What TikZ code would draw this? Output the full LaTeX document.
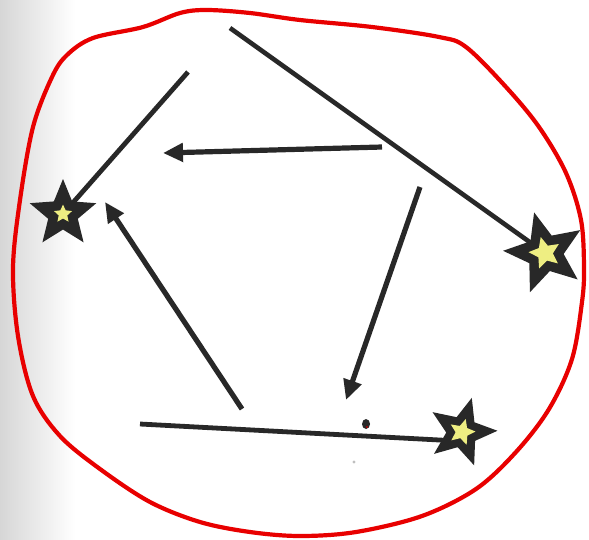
\documentclass[tikz,border=0pt]{standalone}
\usetikzlibrary{arrows.meta,shapes.geometric}
\definecolor{ink}{RGB}{40,40,40}
\definecolor{loopred}{RGB}{232,0,0}
\definecolor{glow}{RGB}{238,238,130}
\tikzset{
  stroke/.style={draw=ink,line width=5.2pt},
  arrowline/.style={stroke,-{Triangle[length=20pt,width=18pt]}},
  blackstar/.style={star,star points=5,star point ratio=2.25,fill=ink,draw=none,inner sep=0pt},
  yellowstar/.style={star,star points=5,star point ratio=2.1,fill=glow,draw=none,inner sep=0pt},
}
\begin{document}
\begin{tikzpicture}[x=1pt,y=-1pt]
\useasboundingbox (0,0) rectangle (589,539);
\fill[white] (0,0) rectangle (589,539);
\shade[left color=black!16,right color=white] (0,0) rectangle (75,539);

% red closed loop
\draw[draw=loopred,line width=4.2pt] plot[smooth cycle,tension=0.55] coordinates {
 (52,77) (67,55) (93,38) (143,27) (180,13) (207,10) (250,13) (300,20)
 (372,27) (439,37) (466,47) (506,87) (539,127) (566,173) (581,220) (584,268)
 (582,302) (572,359) (549,409) (516,452) (476,489) (422,516) (356,532) (300,536)
 (250,532) (200,522) (150,502) (100,469) (60,436) (33,396) (18,336) (13,268)
 (20,200) (33,127)};

% star positions
\coordinate (sl) at (63,214);
\coordinate (sr) at (545,253);
\coordinate (sb) at (462,432);
\coordinate (sbin) at (458,441);

% connector start / end points
\coordinate (a1) at (230,28);
\coordinate (a2) at (188,72);
\coordinate (a3s) at (382,147);
\coordinate (a3e) at (163,153);
\coordinate (a4s) at (420,187);
\coordinate (a4e) at (346,400);
\coordinate (a5s) at (242,409);
\coordinate (a5e) at (105,202);
\coordinate (a6) at (140,424);

\draw[stroke,line width=4.6pt] (a1) -- (sr);
\draw[stroke,line width=4.8pt] (a2) -- (sl);
\draw[arrowline] (a3s) -- (a3e);
\draw[arrowline] (a4s) -- (a4e);
\draw[arrowline] (a5s) -- (a5e);
\draw[stroke,line width=4.8pt] (a6) -- (sbin);

% stars
\node[blackstar,minimum size=70pt] (starl) at (sl) {};
\node[yellowstar,minimum size=19pt] (starlin) at (sl) {};
\node[blackstar,minimum size=84pt,rotate=15] (starr) at (sr) {};
\node[yellowstar,minimum size=33pt,rotate=15] (starrin) at (sr) {};
\node[blackstar,minimum size=71pt,rotate=-16] (starb) at (sb) {};
\node[yellowstar,minimum size=27pt,rotate=-16] (starbin) at (sb) {};

% small blot
\fill[ink] (366,424) ellipse (4pt and 5pt);
\fill[loopred!80!black] (367,427) circle (1.2pt);
\fill[black!25] (354,462) circle (1.6pt);
\end{tikzpicture}
\end{document}
